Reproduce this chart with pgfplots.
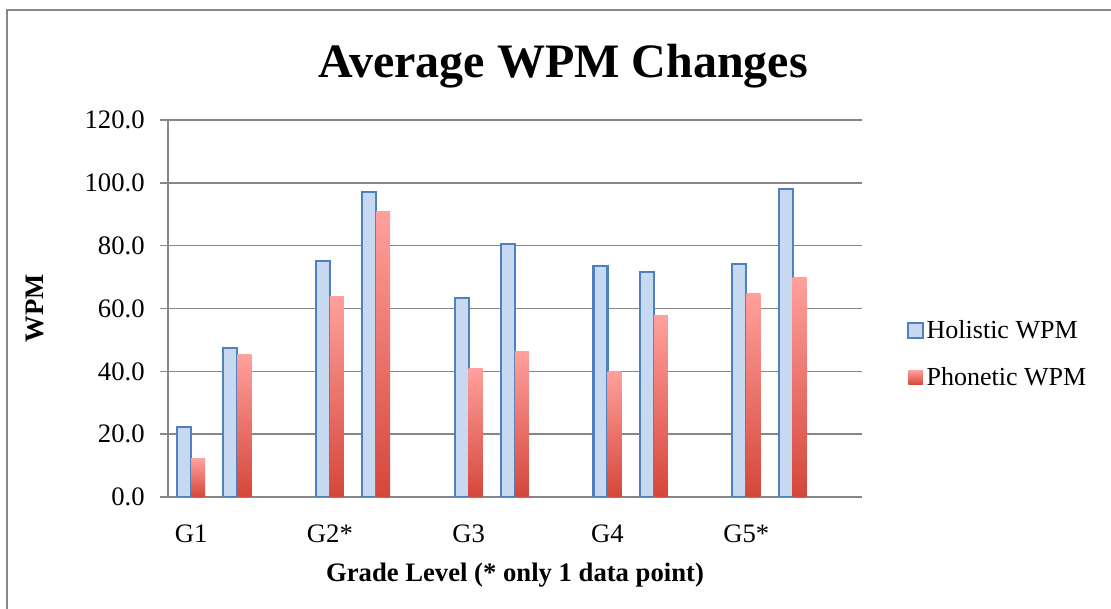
\documentclass[border=0pt]{standalone}
\usepackage{fontspec}
\setmainfont{Liberation Serif}
\usepackage{pgfplots}
\pgfplotsset{compat=1.18}
\definecolor{holfill}{RGB}{198,217,240}
\definecolor{holedge}{RGB}{79,129,189}
\definecolor{phtop}{RGB}{255,160,156}
\definecolor{phbot}{RGB}{213,70,58}
\definecolor{gridgray}{RGB}{134,134,134}

% slots 0..14: three per grade, the third one left empty
\pgfplotstableread{
x hol  pho
0  22.4 12.1
1  47.4 45.5
3  75.1 63.9
4  97.0 90.9
6  63.3 41.0
7  80.5 46.4
9  73.5 40.1
10 71.6 57.8
12 74.1 64.8
13 98.0 69.9
}\wpm

\begin{document}
\begin{tikzpicture}[x=1pt,y=1pt]
\path[use as bounding box] (-126,-84) rectangle (707.25,372.75);
\draw[gridgray, line width=1.5pt] (-120.75,-84) -- (-120.75,365.25) -- (707.25,365.25);
\node[font=\fontsize{36}{40}\selectfont\bfseries, anchor=base] at (296.25,314.25) {Average WPM Changes};
\begin{axis}[
  at={(0pt,0pt)}, anchor=south west,
  scale only axis, width=520.5pt, height=282.75pt,
  bar width=10.5pt,
  xmin=-0.5, xmax=14.5, ymin=0, ymax=120,
  xtick={0,3,6,9,12}, xticklabels={G1,G2*,G3,G4,G5*},
  ytick={0,20,...,120},
  axis x line*=bottom, axis y line*=left,
  axis line style={gridgray, line width=1.1pt, -},
  x tick style={draw=none},
  y tick style={gridgray, line width=1.1pt},
  tick align=outside, major tick length=6pt,
  ymajorgrids, grid style={gridgray, line width=1.1pt},
  tick label style={font=\fontsize{20}{24}\selectfont},
  yticklabel style={xshift=-8pt},
  xticklabel style={yshift=-11pt},
  /pgf/number format/assume math mode=true,
  yticklabel={\pgfmathprintnumber[fixed,fixed zerofill,precision=1]{\tick}},
  xlabel={\bfseries Grade Level (* only 1 data point)},
  ylabel={\bfseries WPM},
  label style={font=\fontsize{20}{24}\selectfont},
  xlabel style={at={(axis description cs:0.5,-0.207)}, anchor=center},
  ylabel style={at={(axis description cs:-0.1916,0.5)}, anchor=center},
  legend style={at={(1.059,0.379)}, anchor=west, draw=none, fill=none,
    font=\fontsize{19.5}{23}\selectfont, row sep=16pt,
    /tikz/every even column/.append style={column sep=3pt}},
  legend cell align=left,
  legend image code/.code={\path[line width=1.6pt,#1] (0pt,-5.5pt) rectangle (11pt,5.5pt);},
]
\addplot[ybar, bar shift=-5.25pt, draw=holedge, fill=holfill, line width=1.6pt]
  table[x=x,y=hol]{\wpm};
\addlegendentry{Holistic WPM}
\addlegendimage{draw=none, top color=phtop, bottom color=phbot}
\addlegendentry{Phonetic WPM}
% one plot per bar so every bar gets its own gradient
\pgfplotsinvokeforeach{0,1,3,4,6,7,9,10,12,13}{
  \addplot[ybar, bar shift=5.25pt, draw=none, top color=phtop, bottom color=phbot,
    forget plot, restrict x to domain=#1:#1]
    table[x=x,y=pho]{\wpm};
}
\end{axis}
\end{tikzpicture}
\end{document}
